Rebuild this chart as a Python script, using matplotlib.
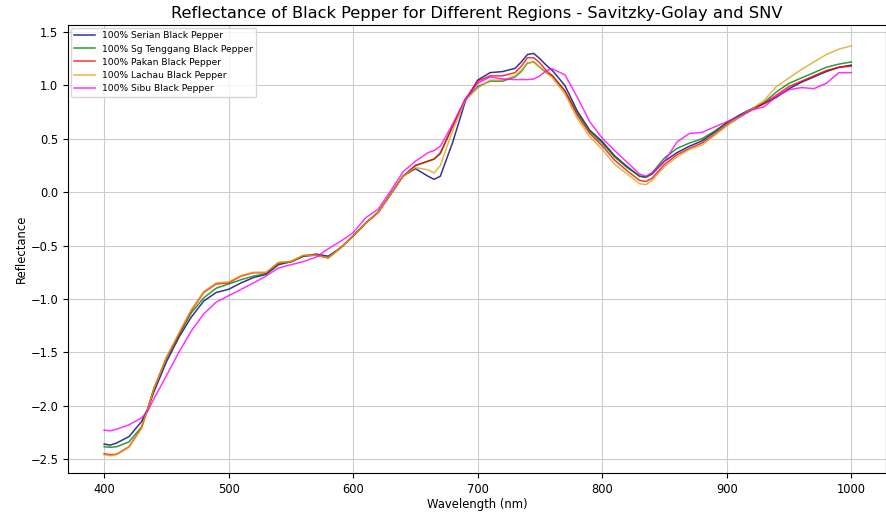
import matplotlib
matplotlib.use("Agg")
import matplotlib.pyplot as plt

wavelength = [400, 405, 410, 420, 430, 435, 440, 450, 460, 470, 480, 490, 500, 510, 520, 530,
              540, 550, 560, 570, 580, 590, 600, 610, 620, 630, 640, 650, 660, 665, 670, 680,
              690, 700, 710, 720, 730, 735, 740, 745, 750, 755, 760, 770, 780, 790, 800, 810,
              820, 830, 835, 840, 850, 860, 870, 880, 890, 900, 910, 920, 930, 940, 950, 960,
              970, 980, 990, 1000]

serian = [-2.36, -2.37, -2.35, -2.29, -2.15, -2.03, -1.87, -1.59, -1.36, -1.17, -1.02, -0.94,
          -0.91, -0.85, -0.80, -0.77, -0.68, -0.65, -0.60, -0.58, -0.60, -0.52, -0.41, -0.29,
          -0.19, -0.02, 0.15, 0.22, 0.15, 0.12, 0.15, 0.47, 0.85, 1.05, 1.12, 1.13, 1.16, 1.22,
          1.29, 1.30, 1.25, 1.19, 1.14, 1.00, 0.76, 0.58, 0.475, 0.34, 0.24, 0.15, 0.14, 0.17,
          0.29, 0.37, 0.43, 0.48, 0.56, 0.65, 0.72, 0.78, 0.83, 0.89, 0.97, 1.03, 1.08, 1.13,
          1.17, 1.19]

sg_tenggang = [-2.385, -2.39, -2.385, -2.34, -2.20, -2.03, -1.84, -1.56, -1.34, -1.13, -0.99, -0.90,
               -0.86, -0.82, -0.786, -0.765, -0.67, -0.655, -0.60, -0.59, -0.615, -0.52, -0.41, -0.29,
               -0.19, -0.02, 0.15, 0.25, 0.29, 0.31, 0.36, 0.62, 0.87, 0.99, 1.04, 1.04, 1.08, 1.13,
               1.21, 1.22, 1.17, 1.12, 1.09, 0.95, 0.74, 0.57, 0.46, 0.33, 0.23, 0.15, 0.14, 0.18,
               0.32, 0.41, 0.46, 0.50, 0.57, 0.65, 0.72, 0.78, 0.84, 0.94, 1.02, 1.07, 1.12, 1.17,
               1.20, 1.22]

pakan = [-2.45, -2.46, -2.455, -2.385, -2.21, -2.03, -1.84, -1.55, -1.33, -1.11, -0.94, -0.86,
         -0.85, -0.786, -0.755, -0.755, -0.66, -0.65, -0.594, -0.59, -0.615, -0.52, -0.41, -0.29,
         -0.19, -0.02, 0.15, 0.25, 0.29, 0.31, 0.37, 0.62, 0.87, 1.04, 1.09, 1.09, 1.12, 1.18,
         1.26, 1.26, 1.21, 1.14, 1.09, 0.95, 0.72, 0.55, 0.434, 0.30, 0.20, 0.11, 0.10, 0.13,
         0.26, 0.35, 0.41, 0.46, 0.54, 0.63, 0.70, 0.77, 0.83, 0.91, 0.99, 1.04, 1.09, 1.14,
         1.17, 1.18]

lachau = [-2.46, -2.47, -2.46, -2.39, -2.21, -2.03, -1.84, -1.55, -1.32, -1.10, -0.93, -0.85,
          -0.84, -0.78, -0.75, -0.75, -0.66, -0.65, -0.59, -0.59, -0.615, -0.52, -0.41, -0.29,
          -0.19, -0.02, 0.15, 0.23, 0.21, 0.18, 0.25, 0.58, 0.86, 0.975, 1.05, 1.05, 1.09, 1.14,
          1.21, 1.22, 1.17, 1.12, 1.07, 0.92, 0.69, 0.52, 0.40, 0.26, 0.17, 0.08, 0.07, 0.11,
          0.24, 0.33, 0.40, 0.44, 0.53, 0.62, 0.70, 0.78, 0.86, 0.99, 1.07, 1.15, 1.22, 1.29,
          1.34, 1.37]

sibu = [-2.23, -2.236, -2.22, -2.18, -2.115, -2.05, -1.935, -1.72, -1.50, -1.30, -1.14, -1.03,
        -0.97, -0.91, -0.85, -0.786, -0.71, -0.68, -0.65, -0.61, -0.53, -0.46, -0.38, -0.24,
        -0.16, 0.01, 0.19, 0.29, 0.37, 0.39, 0.43, 0.64, 0.87, 1.02, 1.08, 1.06, 1.055, 1.055,
        1.055, 1.06, 1.09, 1.14, 1.155, 1.10, 0.89, 0.66, 0.506, 0.39, 0.28, 0.17, 0.15, 0.18,
        0.29, 0.47, 0.55, 0.56, 0.61, 0.66, 0.71, 0.77, 0.80, 0.90, 0.96, 0.98, 0.97, 1.02,
        1.12, 1.12]

labels = ["100% Serian Black Pepper", "100% Sg Tenggang Black Pepper", "100% Pakan Black Pepper",
          "100% Lachau Black Pepper", "100% Sibu Black Pepper"]
series = [serian, sg_tenggang, pakan, lachau, sibu]
colors = ["navy", "green", "red", "goldenrod", "magenta"]

fig = plt.figure(figsize=(8.87, 5.15), dpi=100)
ax = fig.add_axes([0.0767, 0.0816, 0.9223, 0.8698])
for y, lab, c in zip(series, labels, colors):
    ax.plot(wavelength, y, color=c, alpha=0.8, linewidth=1.1, label=lab)

ax.set_xlim(371, 1028)
ax.set_ylim(-2.631, 1.566)
ax.set_title("Reflectance of Black Pepper for Different Regions - Savitzky-Golay and SNV",
             fontsize=11.7, pad=5)
ax.set_xlabel("Wavelength (nm)", fontsize=8.4, labelpad=2)
ax.set_ylabel("Reflectance", fontsize=8.4, labelpad=2)
ax.tick_params(labelsize=8.3)
ax.grid(True, color="#cccccc", linewidth=0.8)
ax.legend(loc="upper left", fontsize=6.6, framealpha=0.8, handlelength=2.2,
          borderaxespad=0.3, labelspacing=0.45)
fig.savefig("out.png", dpi=100)
